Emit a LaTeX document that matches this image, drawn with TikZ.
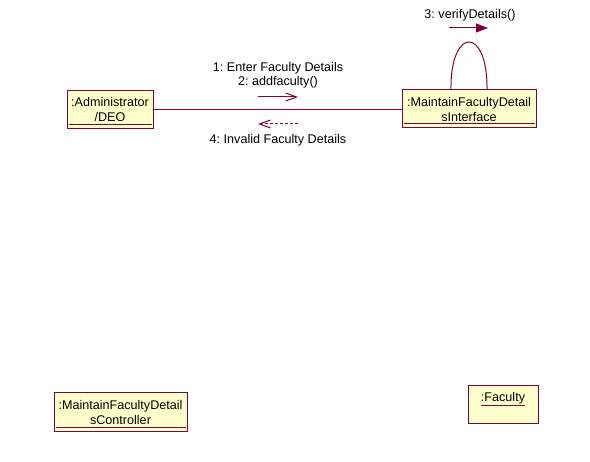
\documentclass[tikz,border=0pt]{standalone}
\usepackage{fontspec}
\setmainfont{Liberation Sans}
\usetikzlibrary{arrows.meta}
\definecolor{rosered}{RGB}{128,0,64}
\definecolor{roseyellow}{RGB}{255,255,204}
\frenchspacing
\tikzset{
  objbox/.style={draw=rosered,fill=roseyellow,line width=1pt,inner sep=0pt,
    align=center,font=\fontsize{12.6}{15}\selectfont},
  msg/.style={font=\fontsize{12.6}{14}\selectfont,inner sep=0pt},
  link/.style={draw=rosered,line width=1pt},
  uline/.style={draw=rosered,line width=1pt}
}
\begin{document}
\begin{tikzpicture}[x=1pt,y=-1pt]
  \useasboundingbox (0,0) rectangle (590,462);

  \node[objbox,minimum width=86pt,minimum height=38pt] (admin) at (110,110) {:Administrator\\/DEO};
  \node[objbox,minimum width=134pt,minimum height=38pt] (ui) at (469,109) {:MaintainFacultyDetail\\sInterface};
  \node[objbox,minimum width=133pt,minimum height=39pt] (ctrl) at (120.5,412.5) {:MaintainFacultyDetail\\sController};
  \node[objbox,minimum width=70pt,minimum height=38pt] (fac) at (503,405) {};
  \node[msg] (factext) at (503,398) {:Faculty};

  \draw[uline] ([xshift=2pt,yshift=5pt]admin.south west) -- ([xshift=-2pt,yshift=5pt]admin.south east);
  \draw[uline] ([xshift=2pt,yshift=5pt]ui.south west) -- ([xshift=-2pt,yshift=5pt]ui.south east);
  \draw[uline] ([xshift=2pt,yshift=5pt]ctrl.south west) -- ([xshift=-2pt,yshift=5pt]ctrl.south east);
  \draw[uline] ([yshift=-1pt]factext.south west) -- ([yshift=-1pt]factext.south east);

  \draw[link] (admin.east |- 0,110) -- (ui.west |- 0,110);
  \draw[link] (451,90) .. controls (450,26) and (488,26) .. (487,90);

  \coordinate (m1s) at (258,97);
  \coordinate (m1e) at (298,97);
  \coordinate (m4s) at (298,124);
  \coordinate (m4e) at (258,124);
  \coordinate (m3s) at (449,28);
  \coordinate (m3e) at (488,28);
  \draw[link,-{Straight Barb[length=11pt,width=8pt]}] (m1s) -- (m1e);
  \draw[link,dashed,dash pattern=on 3pt off 2pt,-{Straight Barb[length=11pt,width=8pt]}] (m4s) -- (m4e);
  \draw[link,-{Triangle[length=12pt,width=9pt]}] (m3s) -- (m3e);

  \node[msg] (l1) at (278,68) {1: Enter Faculty Details};
  \node[msg] (l2) at (278,82) {2: addfaculty()};
  \node[msg] (l4) at (278,140) {4: Invalid Faculty Details};
  \node[msg] (l3) at (470,15) {3: verifyDetails()};

\end{tikzpicture}
\end{document}
